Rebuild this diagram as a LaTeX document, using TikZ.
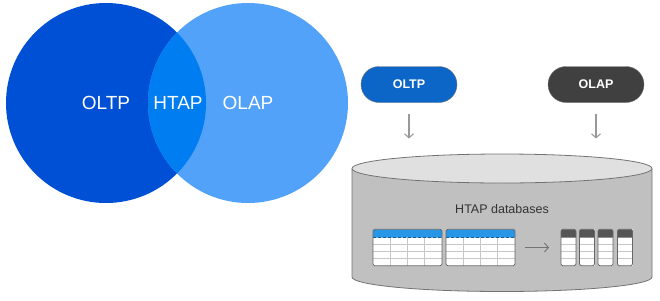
\documentclass[tikz,border=0pt]{standalone}
\usepackage{fontspec}
\setmainfont{Liberation Sans}
\usetikzlibrary{arrows.meta, positioning}

\definecolor{oltpblue}{RGB}{0,80,213}
\definecolor{olapblue}{RGB}{82,162,250}
\definecolor{htapblue}{RGB}{0,125,240}
\definecolor{pillblue}{RGB}{12,102,200}
\definecolor{pillgray}{RGB}{64,64,64}
\definecolor{dbgray}{RGB}{192,192,192}
\definecolor{dbtop}{RGB}{224,224,224}
\definecolor{dbline}{RGB}{115,115,115}
\definecolor{headblue}{RGB}{40,150,230}
\definecolor{headgray}{RGB}{85,85,85}

\begin{document}
\begin{tikzpicture}[x=1pt, y=-1pt,
    set/.style={circle, minimum size=200pt, inner sep=0pt, text=white, font=\fontsize{19}{22}\selectfont},
    pill/.style={rectangle, rounded corners=18pt, draw=black!55, minimum width=96pt, minimum height=36pt, text=white, font=\bfseries\fontsize{12.5}{15}\selectfont},
    rowtab/.style={rectangle, fill=white, minimum width=69pt, minimum height=36.4pt, outer sep=0pt, inner sep=0pt},
    coltab/.style={rectangle, fill=white, minimum width=15pt, minimum height=36.4pt, outer sep=0pt, inner sep=0pt},
    border/.style={draw=black!60, line width=0.8pt, rounded corners=2pt},
    cell/.style={draw=black!22, line width=0.7pt},
    arrow/.style={-{Straight Barb[length=4pt, width=9pt]}, line width=1.1pt, black!40}
]
\useasboundingbox (0,0) rectangle (660,300);

% Sets
\node[set, fill=oltpblue] (oltp) at (106,103) {OLTP};
\node[set, fill=olapblue] (olap) at (248,103) {OLAP};
\begin{scope}
  \clip (oltp.center) circle[radius=100pt];
  \fill[htapblue] (olap.center) circle[radius=100pt];
\end{scope}
\node[text=white, font=\fontsize{19}{22}\selectfont] (htap) at (178,103) {HTAP};

% Database
\draw[fill=dbgray, draw=dbline, line width=0.8pt] (352,168.5) -- (352,277) arc[start angle=180, end angle=360, x radius=150pt, y radius=14.5pt] -- (652,168.5);
\draw[fill=dbtop, draw=dbline, line width=0.8pt] (502,168.5) ellipse[x radius=150pt, y radius=14.5pt];
\node[text=black!80, font=\fontsize{12.5}{15}\selectfont] (htapdb) at (502,209) {HTAP databases};

% Row tables
\foreach \tx [count=\k] in {373,446} {
  \node[rowtab] (rowtab\k) at (\tx+34.5,247.5) {};
  \fill[headblue] (\tx,237.7) [rounded corners=2pt] -- (\tx,229.3) -- (\tx+69,229.3) [sharp corners] -- (\tx+69,237.7) -- cycle;
  \draw[headblue!60!black, densely dashed, line width=0.5pt] (\tx,237.7) -- (\tx+69,237.7);
  \foreach \ry in {244.6,251.5,258.4} \draw[cell] (\tx,\ry) -- (\tx+69,\ry);
  \foreach \cx in {17.25,34.5,51.75} \draw[cell] (\tx+\cx,237.7) -- (\tx+\cx,265.7);
  \draw[border] (rowtab\k.north west) rectangle (rowtab\k.south east);
}

% Column tables
\foreach \tx [count=\k] in {561,579.5,598,617.5} {
  \node[coltab] (coltab\k) at (\tx+7.5,247.5) {};
  \fill[headgray] (\tx,237.7) [rounded corners=2pt] -- (\tx,229.3) -- (\tx+15,229.3) [sharp corners] -- (\tx+15,237.7) -- cycle;
  \foreach \ry in {244.6,251.5,258.4} \draw[cell] (\tx,\ry) -- (\tx+15,\ry);
  \draw[border] (coltab\k.north west) rectangle (coltab\k.south east);
}

% Workloads
\node[pill, fill=pillblue] (oltppill) at (409,84.5) {OLTP};
\node[pill, fill=pillgray] (olappill) at (596,84.5) {OLAP};
\coordinate (oltpin) at (409,138.5);
\coordinate (olapin) at (596,138.5);

% Connections
\draw[arrow, shorten <=11pt] (oltppill.south) -- (oltpin);
\draw[arrow, shorten <=11pt] (olappill.south) -- (olapin);
\draw[arrow, black!55, line width=0.9pt, shorten <=10pt, shorten >=12pt] (rowtab2.east) -- (coltab1.west);
\end{tikzpicture}
\end{document}
